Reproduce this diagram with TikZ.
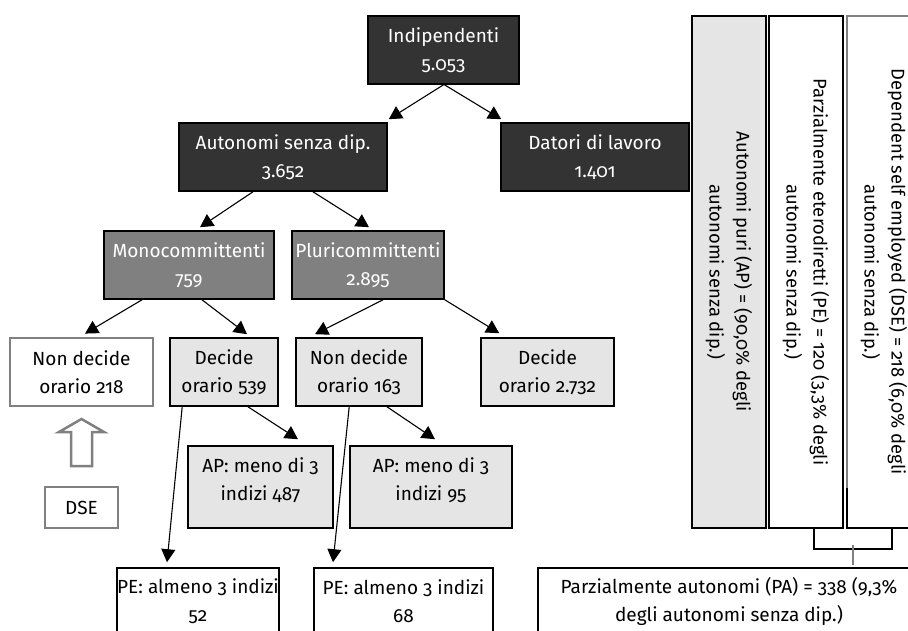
\documentclass[tikz,border=0pt]{standalone}
\usepackage{fontspec}
\setmainfont{Fira Sans}[Numbers=OldStyle]
\usetikzlibrary{arrows.meta,calc}
\definecolor{darkfill}{HTML}{333333}
\definecolor{midfill}{HTML}{808080}
\definecolor{lightfill}{HTML}{E5E5E5}
\definecolor{grayline}{HTML}{808080}
\begin{document}
\begin{tikzpicture}[x=1pt,y=-1pt,
  box/.style={draw=black, line width=1.6pt, rectangle, inner sep=0pt, align=center, font=\fontsize{19}{28}\selectfont},
  darkbox/.style={box, fill=darkfill, text=white},
  midbox/.style={box, fill=midfill, text=white},
  lightbox/.style={box, fill=lightfill},
  whitebox/.style={box, fill=white},
  graybox/.style={box, draw=grayline, line width=2.8pt, fill=white},
  txt/.style={inner sep=0pt, align=center, font=\fontsize{19}{28}\selectfont},
  rotbox/.style={box, rotate=-90, font=\fontsize{18.4}{27}\selectfont},
  arr/.style={line width=1.1pt, -{Triangle[length=13pt,width=14pt]}},
]
\useasboundingbox (0,0) rectangle (908,631);
\clip (0,0) rectangle (908,631);

% tree nodes
\node[darkbox, minimum width=151pt, minimum height=68pt] (ind) at (443.5,50) {Indipendenti\\5.053};
\node[darkbox, minimum width=208pt, minimum height=68pt] (aut) at (283,157) {Autonomi senza dip.\\3.652};
\node[darkbox, minimum width=188pt, minimum height=68pt] (dat) at (595,157) {Datori di lavoro\\1.401};
\node[midbox, minimum width=170pt, minimum height=68pt] (mono) at (189,265) {Monocommittenti\\759};
\node[midbox, minimum width=152pt, minimum height=68pt] (pluri) at (368,265) {Pluricommittenti\\2.895};
\node[graybox, minimum width=143pt, minimum height=68pt] (nd218) at (81.5,372) {Non decide\\orario 218};
\node[lightbox, minimum width=108pt, minimum height=68pt] (d539) at (224,372) {Decide\\orario 539};
\node[lightbox, minimum width=126pt, minimum height=68pt] (nd163) at (359,372) {Non decide\\orario 163};
\node[lightbox, minimum width=133pt, minimum height=68pt] (d2732) at (547.5,372) {Decide\\orario 2.732};
\node[lightbox, minimum width=145pt, minimum height=82pt] (ap487) at (260.5,487) {};
\node[txt] (ap487t) at ($(ap487.center)+(0,-7)$) {AP: meno di 3\\indizi 487};
\node[lightbox, minimum width=162pt, minimum height=82pt] (ap95) at (431,487) {};
\node[txt] (ap95t) at ($(ap95.center)+(0,-7)$) {AP: meno di 3\\indizi 95};
\node[whitebox, minimum width=162pt, minimum height=66pt] (pe52) at (198,601) {PE: almeno 3 indizi\\52};
\node[whitebox, minimum width=179pt, minimum height=66pt] (pe68) at (403.5,601) {PE: almeno 3 indizi\\68};
\node[whitebox, minimum width=382pt, minimum height=66pt] (pa) at (729,601) {Parzialmente autonomi (PA) = 338 (9,3\%\\degli autonomi senza dip.)};

% DSE marker
\node[graybox, minimum width=73pt, minimum height=41pt] (dse) at (81.5,507.5) {DSE};
\draw[grayline, line width=2.5pt, fill=white, line join=miter] (71,466) -- (71,432) -- (59,432) -- (81.5,419) -- (104,432) -- (92,432) -- (92,466) -- cycle;

% right column
\node[rotbox, fill=lightfill, minimum width=512pt, minimum height=74pt] (apb) at (729,272) {Autonomi puri (AP) = (90,0\% degli\\autonomi senza dip.)};
\node[rotbox, fill=white, minimum width=512pt, minimum height=74pt] (peb) at (806,272) {Parzialmente eterodiretti (PE) = 120 (3,3\% degli\\autonomi senza dip.)};
\node[rotbox, fill=white, minimum width=512pt, minimum height=74pt] (dseb) at (884,272) {Dependent self employed (DSE) = 218 (6,0\% degli\\autonomi senza dip.)};
\draw[grayline, line width=1.6pt] (847,488) -- (847,16) -- (925,16);

% bracket
\draw[line width=1.8pt] ($(peb.east)+(8,0)$) -- ++(0,20) -| ($(dseb.east)+(8,0)$);
\coordinate (tk) at ($(peb.east)!0.5!(dseb.east)$);
\draw[grayline, line width=1.2pt] ($(tk)+(8,16)$) -- ($(tk)+(8,36)$);

% arrows
\draw[arr] (ind.south) -- ($(aut.north east)+(1,-3)$);
\draw[arr] ($(ind.south)+(1,0)$) -- ($(dat.north west)+(1,-3)$);
\draw[arr] ($(aut.south)+(-30,0)$) -- ($(mono.north)+(11,-3)$);
\draw[arr] ($(aut.south)+(30,0)$) -- ($(pluri.north)+(1,-3)$);
\draw[arr] ($(mono.south)+(-47,0)$) -- ($(nd218.north)+(3.5,-3)$);
\draw[arr] ($(mono.south)+(13,0)$) -- ($(d539.north)+(23,-3)$);
\draw[arr] ($(pluri.south)+(15,0)$) -- ($(nd163.north)+(-44,-3)$);
\draw[arr] (pluri.south east) -- ($(d2732.north west)+(19,-4)$);
\draw[arr] ($(d539.south)+(24,0)$) -- ($(ap487.north)+(37.5,-6)$);
\draw[arr] ($(nd163.south)+(28,0)$) -- ($(ap95.north)+(4,-6)$);
\draw[arr] ($(d539.south west)+(13,0)$) -- ($(pe52.north)+(-31,-5)$);
\draw[arr] ($(nd163.south west)+(54,0)$) -- ($(pe68.north)+(-70.5,-5)$);
\end{tikzpicture}
\end{document}
